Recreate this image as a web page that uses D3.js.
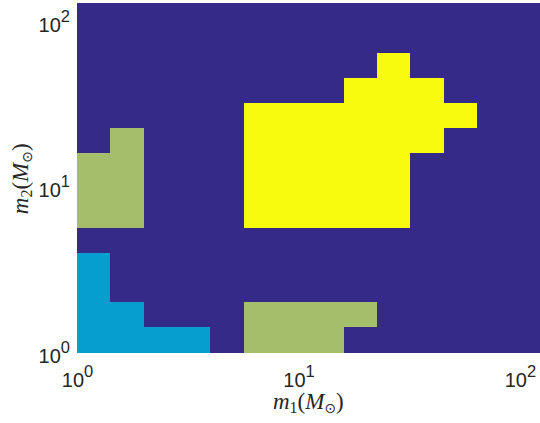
<!DOCTYPE html>
<html>
<head>
<meta charset="utf-8">
<script src="https://cdn.jsdelivr.net/npm/d3@7"></script>
<style>
html,body{margin:0;padding:0;background:#fff;}
svg{display:block;}
</style>
</head>
<body>
<svg id="chart" width="540" height="423"></svg>
<script>
// Bin edges (powers of sqrt(2)) along m1 and m2
const m1Edges = [1, 1.4142, 2, 2.8284, 4, 5.6569, 8, 11.314, 16, 22.627, 32, 45.255, 64, 90.51, 128];
const m2Edges = [1, 1.4142, 2, 2.8284, 4, 5.6569, 8, 11.314, 16, 22.627, 32, 45.255, 64, 90.51, 128];
// Class per cell, rows listed from top (highest m2 bin) to bottom, columns m1 bins left to right
const row13 = [0,0,0,0,0,0,0,0,0,0,0,0,0,0];
const row12 = [0,0,0,0,0,0,0,0,0,0,0,0,0,0];
const row11 = [0,0,0,0,0,0,0,0,0,3,0,0,0,0];
const row10 = [0,0,0,0,0,0,0,0,3,3,3,0,0,0];
const row9  = [0,0,0,0,0,3,3,3,3,3,3,3,0,0];
const row8  = [0,2,0,0,0,3,3,3,3,3,3,0,0,0];
const row7  = [2,2,0,0,0,3,3,3,3,3,0,0,0,0];
const row6  = [2,2,0,0,0,3,3,3,3,3,0,0,0,0];
const row5  = [2,2,0,0,0,3,3,3,3,3,0,0,0,0];
const row4  = [0,0,0,0,0,0,0,0,0,0,0,0,0,0];
const row3  = [1,0,0,0,0,0,0,0,0,0,0,0,0,0];
const row2  = [1,0,0,0,0,0,0,0,0,0,0,0,0,0];
const row1  = [1,1,0,0,0,2,2,2,2,0,0,0,0,0];
const row0  = [1,1,1,1,0,2,2,2,0,0,0,0,0,0];
const gridRows = [row13,row12,row11,row10,row9,row8,row7,row6,row5,row4,row3,row2,row1,row0];
const classColors = ["#352a87", "#069dcf", "#a5be6b", "#f9fb0e"];
const xTicks = [1, 10, 100];
const yTicks = [1, 10, 100];
const xTickExp = ["0", "1", "2"];
const yTickExp = ["0", "1", "2"];

const svg = d3.select("#chart");
const pLeft = 77, pRight = 543.7, pTop = 3.3, pBottom = 352.3;
const x = d3.scaleLog().domain([1, 128]).range([pLeft, pRight]);
const y = d3.scaleLog().domain([1, 128]).range([pBottom, pTop]);
const color = d3.scaleOrdinal().domain([0,1,2,3]).range(classColors);

const cells = [];
const nRows = gridRows.length;
gridRows.forEach((row, r) => {
  const j = nRows - 1 - r;
  row.forEach((v, i) => cells.push({i, j, v}));
});

svg.append("g").selectAll("rect").data(cells).join("rect")
  .attr("x", d => x(m1Edges[d.i]))
  .attr("y", d => y(m2Edges[d.j + 1]))
  .attr("width", d => x(m1Edges[d.i + 1]) - x(m1Edges[d.i]) + 0.4)
  .attr("height", d => y(m2Edges[d.j]) - y(m2Edges[d.j + 1]) + 0.4)
  .attr("fill", d => color(d.v))
  .attr("shape-rendering", "crispEdges");

const font = "'Liberation Sans', Arial, Helvetica, sans-serif";

// X axis tick labels
const xAxis = svg.append("g").attr("transform", `translate(0,${pBottom})`)
  .call(d3.axisBottom(x).tickValues(xTicks).tickSize(0).tickFormat(""));
xAxis.select(".domain").remove();
xAxis.selectAll(".tick text").remove();
xAxis.selectAll(".tick").each(function(d, k) {
  const t = d3.select(this).append("text")
    .attr("y", 34.5).attr("text-anchor", "middle")
    .attr("font-family", font).attr("font-size", 20).attr("fill", "#262626");
  t.append("tspan").text("10");
  t.append("tspan").attr("dy", -10).attr("font-size", 16.5).text(xTickExp[k]);
});

// Y axis tick labels
const yAxis = svg.append("g").attr("transform", `translate(${pLeft},0)`)
  .call(d3.axisLeft(y).tickValues(yTicks).tickSize(0).tickFormat(""));
yAxis.select(".domain").remove();
yAxis.selectAll(".tick text").remove();
yAxis.selectAll(".tick").each(function(d, k) {
  const t = d3.select(this).append("text")
    .attr("x", -7).attr("y", 10).attr("text-anchor", "end")
    .attr("font-family", font).attr("font-size", 20).attr("fill", "#262626");
  t.append("tspan").text("10");
  t.append("tspan").attr("dy", -10).attr("font-size", 16.5).text(yTickExp[k]);
});

// Axis labels
const serif = "'Liberation Serif', 'DejaVu Serif', serif";
function mathLabel(g, idx) {
  const t = g.append("text").attr("text-anchor", "middle")
    .attr("font-family", serif).attr("font-size", 23).attr("fill", "#262626");
  t.append("tspan").attr("font-style", "italic").text("m");
  t.append("tspan").attr("font-size", 16).attr("dy", 4).text(idx);
  t.append("tspan").attr("dy", -4).text("(");
  t.append("tspan").attr("font-style", "italic").text("M");
  t.append("tspan").attr("font-size", 14).attr("dy", 4).attr("font-family", "'DejaVu Sans', sans-serif").text("\u2299");
  t.append("tspan").attr("dy", -4).text(")");
  return t;
}
mathLabel(svg.append("g").attr("transform", `translate(${(pLeft+pRight)/2 - 2},408.5)`), "1");
mathLabel(svg.append("g").attr("transform", `translate(28,${(pTop+pBottom)/2 + 1}) rotate(-90)`), "2");
</script>
</body>
</html>
